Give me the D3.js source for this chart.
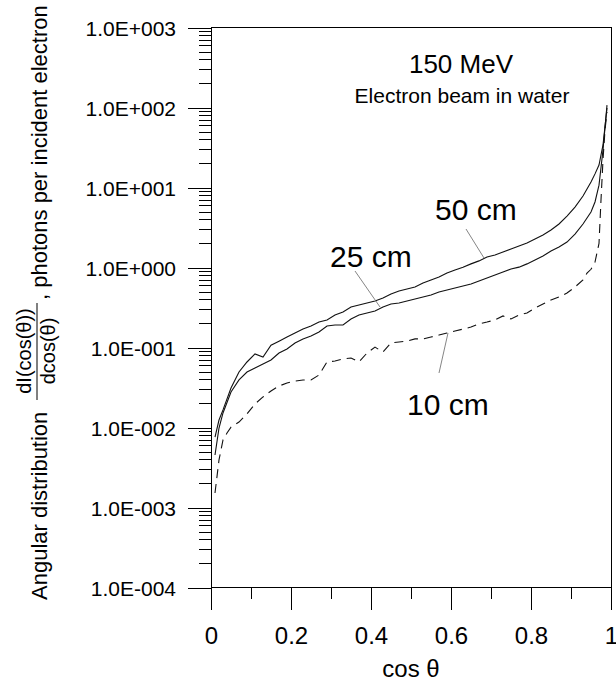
<!DOCTYPE html>
<html>
<head>
<meta charset="utf-8">
<script src="https://cdn.jsdelivr.net/npm/d3@7"></script>
<style>
  html, body { margin: 0; padding: 0; background: #fff; }
  svg { display: block; }
  text { font-family: "Liberation Sans", Arial, sans-serif; fill: #000; }
</style>
</head>
<body>
<svg id="chart" width="616" height="683"></svg>
<script>
// ---- data ----
const cosSolid = [0.01,0.02,0.03,0.05,0.07,0.09,0.11,0.13,0.15,0.17,0.19,0.21,0.23,0.25,0.27,0.29,0.31,0.33,0.35,0.37,0.39,0.41,0.43,0.45,0.47,0.49,0.51,0.53,0.55,0.57,0.59,0.61,0.63,0.65,0.67,0.69,0.71,0.73,0.75,0.77,0.79,0.81,0.83,0.85,0.87,0.89,0.91,0.93,0.95,0.96,0.97,0.98,0.99];
const val50cm = [0.0076,0.0124,0.0166,0.0312,0.0494,0.0659,0.083,0.076,0.107,0.120,0.135,0.152,0.170,0.186,0.208,0.221,0.255,0.278,0.321,0.340,0.360,0.381,0.416,0.467,0.508,0.538,0.570,0.640,0.698,0.760,0.853,0.931,1.01,1.11,1.21,1.35,1.43,1.56,1.70,1.86,2.02,2.27,2.55,2.94,3.50,4.40,5.70,7.83,11.7,14.8,19.1,34,98.6];
const val25cm = [0.00453,0.00986,0.0152,0.0278,0.0393,0.0494,0.0555,0.0622,0.0698,0.0853,0.0957,0.114,0.128,0.139,0.156,0.186,0.191,0.191,0.227,0.255,0.270,0.286,0.321,0.350,0.360,0.381,0.404,0.428,0.453,0.494,0.524,0.555,0.588,0.622,0.678,0.739,0.806,0.879,0.958,1.01,1.11,1.24,1.39,1.61,1.80,2.08,2.62,3.50,4.94,6.59,10.7,29.4,107];
const cosDashed = [0.01,0.02,0.03,0.04,0.05,0.07,0.09,0.11,0.13,0.15,0.17,0.19,0.21,0.23,0.25,0.27,0.29,0.31,0.33,0.35,0.37,0.39,0.41,0.43,0.45,0.47,0.49,0.51,0.53,0.55,0.57,0.59,0.61,0.63,0.65,0.67,0.69,0.71,0.73,0.75,0.77,0.79,0.81,0.83,0.85,0.87,0.89,0.91,0.93,0.94,0.95,0.96,0.97,0.975,0.98,0.985,0.99];
const val10cm = [0.00152,0.00393,0.00698,0.00853,0.0101,0.0117,0.0148,0.0197,0.0241,0.0286,0.0330,0.0360,0.0381,0.0393,0.0393,0.0453,0.0659,0.0678,0.0718,0.0739,0.0659,0.0853,0.101,0.0879,0.114,0.117,0.120,0.128,0.128,0.135,0.143,0.152,0.161,0.170,0.180,0.197,0.208,0.221,0.248,0.227,0.255,0.270,0.312,0.350,0.393,0.428,0.480,0.570,0.70,0.85,0.95,1.17,2.0,7.0,22.1,52.4,87.9];

const xTicksMajor = [0, 0.2, 0.4, 0.6, 0.8, 1];
const xTickLabels = ["0", "0.2", "0.4", "0.6", "0.8", "1"];
const xTicksMinor = [0.1, 0.3, 0.5, 0.7, 0.9];
const yTicks = [1e-4, 1e-3, 1e-2, 1e-1, 1e0, 1e1, 1e2, 1e3];
const yTickLabels = ["1.0E-004","1.0E-003","1.0E-002","1.0E-001","1.0E+000","1.0E+001","1.0E+002","1.0E+003"];

const seriesLabels = ["50 cm", "25 cm", "10 cm"];
const titleText = "150 MeV";
const subtitleText = "Electron beam in water";
const xAxisTitle = "cos θ";

// ---- layout ----
const svg = d3.select("#chart");
const L = 211, R = 611, T = 27.5, B = 587.5;

const x = d3.scaleLinear().domain([0, 1]).range([L, R]);
const y = d3.scaleLog().domain([1e-4, 1e3]).range([B, T]);

// minor y ticks
const yMinor = [];
for (let e = -4; e < 3; e++) for (let k = 2; k <= 9; k++) yMinor.push(k * Math.pow(10, e));

svg.append("g").attr("transform", `translate(${L},0)`)
  .call(d3.axisLeft(y).tickValues(yMinor).tickSize(12).tickFormat("").tickSizeOuter(0));
const gY = svg.append("g").attr("transform", `translate(${L},0)`)
  .call(d3.axisLeft(y).tickValues(yTicks).tickSize(23).tickPadding(12)
    .tickFormat((d, i) => yTickLabels[i]).tickSizeOuter(0));
gY.selectAll("text").style("font-size", "21px").attr("dy", "0.36em");

svg.append("g").attr("transform", `translate(0,${B})`)
  .call(d3.axisBottom(x).tickValues(xTicksMinor).tickSize(11).tickFormat("").tickSizeOuter(0));
const gX = svg.append("g").attr("transform", `translate(0,${B})`)
  .call(d3.axisBottom(x).tickValues(xTicksMajor).tickSize(22).tickPadding(17)
    .tickFormat((d, i) => xTickLabels[i]).tickSizeOuter(0));
gX.selectAll("text").style("font-size", "24px");

svg.selectAll(".domain").remove();
svg.selectAll(".tick line").attr("stroke", "#000").attr("stroke-width", 1).attr("shape-rendering", "crispEdges");

// frame
svg.append("rect").attr("x", L).attr("y", T).attr("width", R - L).attr("height", B - T)
  .attr("fill", "none").attr("stroke", "#000").attr("stroke-width", 1).attr("shape-rendering", "crispEdges");

// curves
const line = d3.line().x(d => x(d[0])).y(d => y(d[1]));
const zip = (a, b) => a.map((v, i) => [v, b[i]]);
svg.append("path").datum(zip(cosSolid, val50cm)).attr("d", line)
  .attr("fill", "none").attr("stroke", "#111").attr("stroke-width", 1.1);
svg.append("path").datum(zip(cosSolid, val25cm)).attr("d", line)
  .attr("fill", "none").attr("stroke", "#111").attr("stroke-width", 1.1);
svg.append("path").datum(zip(cosDashed, val10cm)).attr("d", line)
  .attr("fill", "none").attr("stroke", "#111").attr("stroke-width", 1.1)
  .attr("stroke-dasharray", "9,6");

// annotations
svg.append("text").attr("x", 461).attr("y", 73).attr("text-anchor", "middle")
  .style("font-size", "26px").text(titleText);
svg.append("text").attr("x", 462).attr("y", 103).attr("text-anchor", "middle")
  .style("font-size", "21px").text(subtitleText);

const labelPos = [[435, 220], [330, 267], [407, 415]];
seriesLabels.forEach((t, i) => {
  svg.append("text").attr("x", labelPos[i][0]).attr("y", labelPos[i][1])
    .style("font-size", "30px").text(t);
});
const leaders = [[466, 229, 484, 258], [355, 271, 380, 307], [448, 333, 439, 373]];
leaders.forEach(l => {
  svg.append("line").attr("x1", l[0]).attr("y1", l[1]).attr("x2", l[2]).attr("y2", l[3])
    .attr("stroke", "#666").attr("stroke-width", 0.8);
});

// x-axis title
svg.append("text").attr("x", 411).attr("y", 677).attr("text-anchor", "middle")
  .style("font-size", "24px").text(xAxisTitle);

// y-axis title (rotated)
const gT = svg.append("g").attr("transform", "rotate(-90)");
gT.append("text").attr("x", -600).attr("y", 47).style("font-size", "22px").text("Angular distribution");
gT.append("text").attr("x", -351).attr("y", 31).attr("text-anchor", "middle").style("font-size", "20px").text("dI(cos(θ))");
gT.append("line").attr("x1", -400).attr("x2", -303).attr("y1", 37).attr("y2", 37).attr("stroke", "#000").attr("stroke-width", 1);
gT.append("text").attr("x", -351).attr("y", 55).attr("text-anchor", "middle").style("font-size", "20px").text("dcos(θ)");
gT.append("text").attr("x", -300).attr("y", 47).style("font-size", "22px").text(", photons per incident electron");
</script>
</body>
</html>
